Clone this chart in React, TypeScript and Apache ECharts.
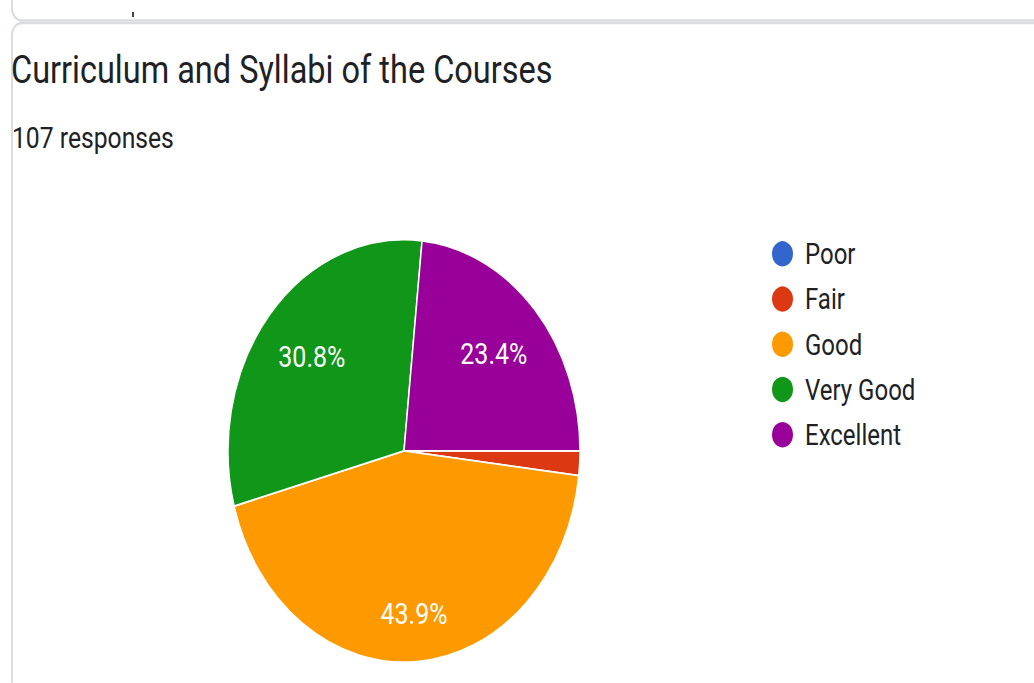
import React, { useEffect, useRef } from 'react';
import * as echarts from 'echarts';

const TITLE = 'Curriculum and Syllabi of the Courses';
const SUBTITLE = '107 responses';
const categories = ['Poor', 'Fair', 'Good', 'Very Good', 'Excellent'];
const counts = [0, 2, 47, 33, 25];
const colors = ['#3366cc', '#dc3912', '#ff9900', '#109618', '#990099'];

// The reference screenshot is stretched vertically; we draw in unstretched space and scale.
const SY = 1.2;
const W = 1034;
const H = 683 / SY;

export default function App() {
  const ref = useRef<HTMLDivElement>(null);
  useEffect(() => {
    const chart = echarts.init(ref.current as HTMLDivElement, null, { renderer: 'svg' });
    const font = 'Roboto';
    const ink = '#202124';
    const center = [404, 375.8];
    const R = 176;
    const data = categories.map((name, i) => ({ name, value: counts[i] }));
    // Google places the big slice's label a bit further out than the others.
    const farLabel = ['Good'];
    const labelFor = (far: boolean) =>
      categories.map((name, i) => ({
        name,
        value: counts[i],
        label: { show: farLabel.includes(name) === far },
      }));
    const labelStyle = {
      show: true,
      position: 'inside',
      formatter: (p: any) => (p.percent >= 5 ? p.percent.toFixed(1) + '%' : ''),
      color: '#ffffff',
      textBorderWidth: 0,
      fontFamily: font,
      fontSize: 25,
    };
    chart.setOption({
      animation: false,
      backgroundColor: '#ffffff',
      color: colors,
      graphic: [
        {
          type: 'rect',
          z: -10,
          shape: { x: 12, y: -100, width: 1100, height: 20.5 / SY + 100, r: 10 },
          style: { fill: '#ffffff', stroke: '#dcdcdc', lineWidth: 2 },
        },
        {
          type: 'rect',
          z: -9,
          shape: { x: 12, y: 23 / SY, width: 1100, height: 700, r: 10 },
          style: { fill: '#ffffff', stroke: '#dadce0', lineWidth: 2 },
        },
        {
          type: 'line',
          z: -8,
          shape: { x1: 133, y1: 12 / SY, x2: 133, y2: 17 / SY },
          style: { stroke: '#444444', lineWidth: 2 },
        },
      ],
      title: [
        {
          text: TITLE,
          left: 11,
          top: 42,
          padding: 0,
          textStyle: { fontFamily: font, fontSize: 32.5, fontWeight: 'normal', color: ink },
        },
        {
          text: SUBTITLE,
          left: 12,
          top: 103,
          padding: 0,
          textStyle: { fontFamily: font, fontSize: 24.7, fontWeight: 'normal', color: ink },
        },
      ],
      legend: {
        orient: 'vertical',
        left: 770,
        top: 199,
        padding: 0,
        icon: 'circle',
        itemWidth: 23,
        itemHeight: 23,
        itemGap: 12.7,
        selectedMode: false,
        data: categories,
        textStyle: { fontFamily: font, fontSize: 24, color: ink, padding: [0, 0, 0, 6] },
      },
      series: [
        {
          type: 'pie',
          center,
          radius: [0, R],
          startAngle: 0,
          clockwise: true,
          silent: true,
          data,
          label: { show: false },
          labelLine: { show: false },
          itemStyle: { borderColor: '#ffffff', borderWidth: 1.5 },
        },
        {
          type: 'pie',
          center,
          radius: [60, R],
          startAngle: 0,
          clockwise: true,
          silent: true,
          minShowLabelAngle: 10,
          data: labelFor(false),
          itemStyle: { color: 'transparent', borderWidth: 0 },
          labelLine: { show: false },
          label: labelStyle,
        },
        {
          type: 'pie',
          center,
          radius: [90, R],
          startAngle: 0,
          clockwise: true,
          silent: true,
          minShowLabelAngle: 10,
          data: labelFor(true),
          itemStyle: { color: 'transparent', borderWidth: 0 },
          labelLine: { show: false },
          label: labelStyle,
        },
      ],
    });
    return () => chart.dispose();
  }, []);

  return (
    <div style={{ position: 'fixed', left: 0, top: 0, width: W, height: 683, overflow: 'hidden', background: '#fff' }}>
      <div
        ref={ref}
        style={{ width: W, height: H, transform: `scaleY(${SY})`, transformOrigin: '0 0' }}
      />
    </div>
  );
}
